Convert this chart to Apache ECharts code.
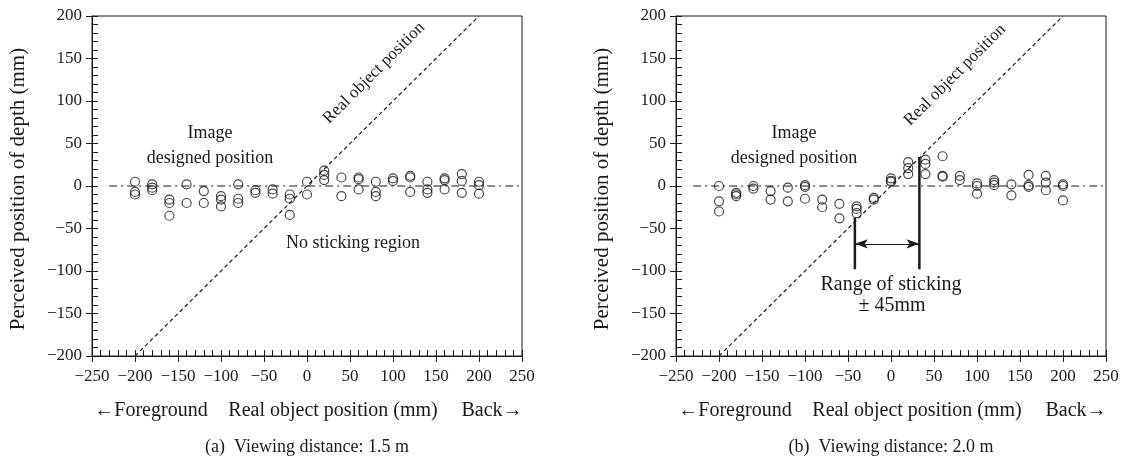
<!DOCTYPE html>
<html><head><meta charset="utf-8">
<script src="https://cdn.jsdelivr.net/npm/echarts@6/dist/echarts.min.js"></script>
<style>html,body{margin:0;padding:0;background:#fff}#c{width:1125px;height:463px}</style>
</head><body><div id="c"></div>
<script>
// ---------- data ----------
const realPositions = [-200,-180,-160,-140,-120,-100,-80,-60,-40,-20,0,20,40,60,80,100,120,140,160,180,200];
// (a) viewing distance 1.5 m : perceived depth at each real position
const perceivedA = [
  [5,-7,-10],[2,-2,-5],[-16,-20,-35],[2,-20],[-6,-20],[-12,-16,-24],[2,-15,-20],[-5,-8],[-4,-9],[-10,-15,-34],
  [5,-10],[18,13,7],[10,-12],[10,8,-4],[5,-7,-12],[9,6],[12,10,-7],[5,-4,-8],[9,7,-4],[14,6,-8],[5,1,-9]
];
// (b) viewing distance 2.0 m
const perceivedB = [
  [0,-18,-30],[-8,-10,-12],[0,-3],[-6,-16],[-2,-18],[1,-1,-15],[-16,-25],[-21,-38],[-24,-27,-32],[-14,-16],
  [9,6,5],[28,21,14],[31,26,14],[35,12,11],[12,7],[3,0,-9],[7,4,1],[2,-11],[13,1,-1],[12,4,-5],[2,0,-17]
];
const realLineRange = [-200, 200];      // y = x reference line
const zeroLineRange = [-230, 250];      // image designed position (y = 0)
const stickingBounds = [-42, 33];       // range of sticking (±45 mm)
const stickingTops = [-37, 34];
const stickingBottom = -98;
const stickingArrowY = -68;
const xTickRange = [-250, 250, 50];
const yTickRange = [-200, 200, 50];
const captions = ['(a)  Viewing distance: 1.5 m', '(b)  Viewing distance: 2.0 m'];

// ---------- chart ----------
const F = "'Liberation Serif','DejaVu Serif',serif";
const K = '#1a1a1a';
const minus = v => String(v).replace('-', '\u2212');

function xAxes(g){
  return [{
    type:'value', gridIndex:g, min:xTickRange[0], max:xTickRange[1], interval:xTickRange[2], position:'bottom',
    axisLine:{show:true,onZero:false,lineStyle:{color:K,width:1}},
    axisTick:{show:true,inside:false,length:6,lineStyle:{color:K,width:1}},
    splitLine:{show:false},
    axisLabel:{color:K,fontSize:17,fontFamily:F,margin:12,formatter:minus}
  },{
    type:'value', gridIndex:g, min:xTickRange[0], max:xTickRange[1], interval:xTickRange[2], position:'bottom',
    axisLine:{show:false,onZero:false}, axisLabel:{show:false}, splitLine:{show:false},
    axisTick:{show:true,inside:true,length:6,lineStyle:{color:K,width:1}},
    minorTick:{show:true,splitNumber:5,length:6,lineStyle:{color:K,width:1}}
  }];
}
function yAxes(g){
  return [{
    type:'value', gridIndex:g, min:yTickRange[0], max:yTickRange[1], interval:yTickRange[2], position:'left',
    axisLine:{show:true,onZero:false,lineStyle:{color:K,width:1}},
    axisTick:{show:true,inside:false,length:6,lineStyle:{color:K,width:1}},
    splitLine:{show:false},
    axisLabel:{color:K,fontSize:17,fontFamily:F,margin:10,formatter:minus}
  },{
    type:'value', gridIndex:g, min:yTickRange[0], max:yTickRange[1], interval:yTickRange[2], position:'left',
    axisLine:{show:false,onZero:false}, axisLabel:{show:false}, splitLine:{show:false},
    axisTick:{show:true,inside:true,length:6,lineStyle:{color:K,width:1}},
    minorTick:{show:true,splitNumber:5,length:6,lineStyle:{color:K,width:1}}
  }];
}
function pts(arr){
  const out = [];
  realPositions.forEach((x,i)=>arr[i].forEach(y=>out.push([x,y])));
  return out;
}
function baseSeries(ax, data){
  return [
    {type:'line', xAxisIndex:ax, yAxisIndex:ax, symbol:'none', silent:true, z:2,
     data:realLineRange.map(v=>[v,v]), lineStyle:{color:K,width:1.2,type:[4,3]}},
    {type:'line', xAxisIndex:ax, yAxisIndex:ax, symbol:'none', silent:true, z:2,
     data:zeroLineRange.map(v=>[v,0]), lineStyle:{color:K,width:1.2,type:[8,4,2,4]}},
    {type:'scatter', xAxisIndex:ax, yAxisIndex:ax, symbol:'circle', symbolSize:9, silent:true, z:5,
     itemStyle:{color:'rgba(0,0,0,0)',borderColor:K,borderWidth:1.2}, data:pts(data)}
  ];
}
const series = baseSeries(0, perceivedA).concat(baseSeries(2, perceivedB));
stickingBounds.forEach((x,i)=>{
  series.push({type:'line', xAxisIndex:2, yAxisIndex:2, symbol:'none', silent:true, z:4,
    data:[[x,stickingTops[i]],[x,stickingBottom]], lineStyle:{color:K,width:2.5,type:'solid'}});
});
series.push({type:'line', xAxisIndex:2, yAxisIndex:2, symbol:'none', silent:true, data:[],
  markLine:{silent:true, symbol:['arrow','arrow'], symbolSize:[7,13], label:{show:false},
    lineStyle:{color:K,width:1.2,type:'solid'},
    data:[[{coord:[stickingBounds[0],stickingArrowY]},{coord:[stickingBounds[1],stickingArrowY]}]]}});

const txt = (x,y,t,opt={}) => ({type:'text', x, y, rotation:opt.rot||0, silent:true,
  style:{text:t, fill:K, font:`${opt.size||18}px ${F}`, textAlign:'center', textVerticalAlign:'middle'}});
const graphic = [];
[[92,522],[676,1106]].forEach(([l,r],i)=>{
  const c = (l+r)/2;
  graphic.push(txt(l-74,189,'Perceived position of depth (mm)',{rot:Math.PI/2,size:21}));
  graphic.push(txt(l+59,411,'\u2190Foreground',{size:20}));
  graphic.push(txt(l+241,411,'Real object position (mm)',{size:20}));
  graphic.push(txt(l+400,411,'Back\u2192',{size:20}));
  graphic.push(txt(c,447,captions[i],{size:18}));
  graphic.push(txt(l+118,133,'Image'));
  graphic.push(txt(l+118,158,'designed position'));
});
graphic.push(txt(374,73,'Real object position',{rot:Math.PI/4,size:17}));
graphic.push(txt(955,75,'Real object position',{rot:Math.PI/4,size:17}));
graphic.push(txt(353,243,'No sticking region'));
graphic.push(txt(891,285,'Range of sticking',{size:20}));
graphic.push(txt(892,306,'\u00b1 45mm',{size:20}));

const chart = echarts.init(document.getElementById('c'), null, {renderer:'canvas'});
chart.setOption({
  animation:false, backgroundColor:'#fff',
  grid:[
    {left:92,right:603,top:16,bottom:107,show:true,borderColor:K,borderWidth:1,backgroundColor:'transparent'},
    {left:676,right:19,top:16,bottom:107,show:true,borderColor:K,borderWidth:1,backgroundColor:'transparent'}
  ],
  xAxis: xAxes(0).concat(xAxes(1)),
  yAxis: yAxes(0).concat(yAxes(1)),
  series, graphic
});
</script></body></html>
